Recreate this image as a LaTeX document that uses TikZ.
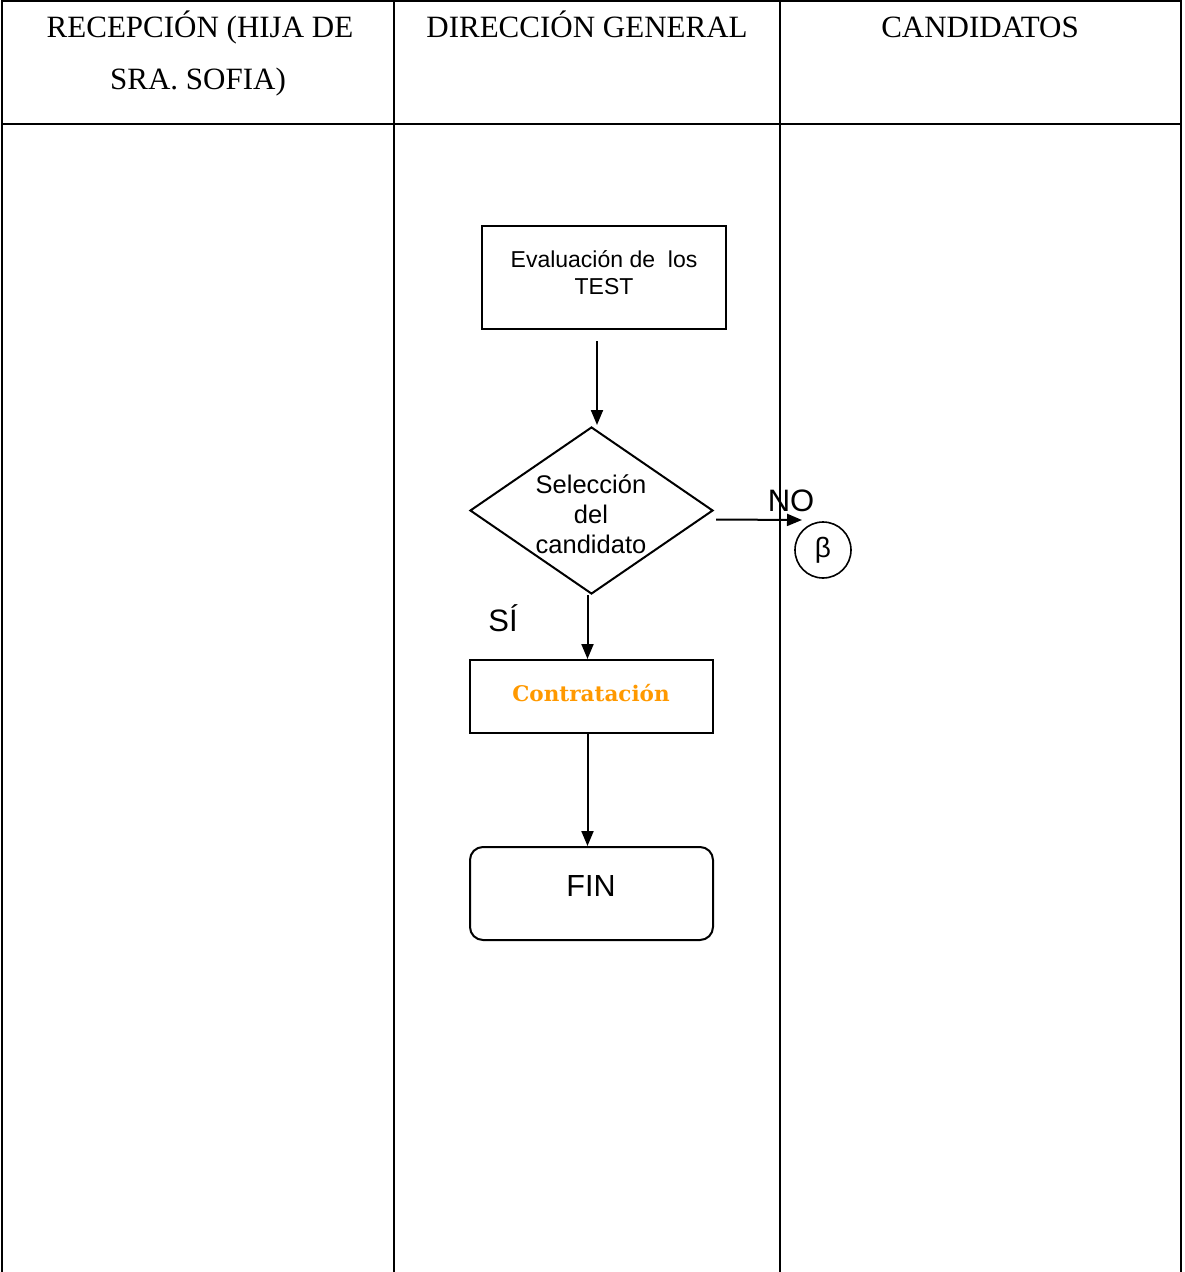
\documentclass[tikz,border=0pt]{standalone}
\usepackage{fontspec}
\setmainfont{Liberation Serif}
\newfontfamily\arialf{Liberation Sans}
\newfontfamily\bookf{DejaVu Serif}
\usetikzlibrary{shapes.geometric,arrows.meta,calc}
\definecolor{orangeT}{HTML}{FF9900}
\begin{document}
\begin{tikzpicture}[x=1pt,y=-1pt,
  tbl/.style={line width=2.2pt},
  shp/.style={draw,line width=2pt,inner sep=0pt},
  arr/.style={line width=2pt,-{Triangle[length=15pt,width=12pt]}},
  hdr/.style={font=\fontsize{31}{36}\selectfont,anchor=base},
  sans/.style={font=\arialf\fontsize{23}{27}\selectfont,align=center}]
\useasboundingbox (0,0) rectangle (1184,1272);
% table
\draw[tbl] (2,1272) -- (2,1) -- (1181,1) -- (1181,1272);
\draw[tbl] (2,124) -- (1181,124);
\draw[tbl] (394,1) -- (394,1272);
\draw[tbl] (780,1) -- (780,1272);
\node[hdr] (h1a) at (200,37) {RECEPCIÓN (HIJA DE};
\node[hdr] (h1b) at (198,89) {SRA. SOFIA)};
\node[hdr] (h2) at (587,37) {DIRECCIÓN GENERAL};
\node[hdr] (h3) at (980,37) {CANDIDATOS};
% shapes
\node[shp,minimum width=244pt,minimum height=103pt] (eval) at (604,277.5) {};
\node[sans] (evalt) at (604,273) {Evaluación de \ los\\TEST};
\node[shp,diamond,minimum width=243pt,minimum height=167pt] (dia) at (591.5,510.5) {};
\begin{scope}
\clip (470,440) rectangle (713,554);
\node[sans,font=\arialf\fontsize{25.5}{30}\selectfont] (diat) at (591,514) {Selección\\del\\candidato};
\end{scope}
\node[shp,rectangle,minimum width=243pt,minimum height=73pt] (con) at (591.5,696.5) {};
\node[font=\bookf\bfseries\fontsize{21.5}{24}\selectfont,text=orangeT] (cont) at (591,693) {Contratación};
\node[shp,rounded corners=13pt,minimum width=243pt,minimum height=93pt] (fin) at (591.5,893.5) {};
\node[font=\arialf\fontsize{30.5}{34}\selectfont] (fint) at (591,886) {FIN};
\node[draw,circle,line width=1.6pt,minimum size=56pt,inner sep=0pt] (beta) at (823,550) {};
\node[font=\arialf\fontsize{28}{30}\selectfont] (betat) at (823,550) {β};
% connectors
\coordinate (a1) at ($(eval.south)+(-7,11)$);
\coordinate (a1e) at (597,425);
\draw[arr] (a1) -- (a1e);
\coordinate (a2) at ($(dia.east)+(2,9)$);
\coordinate (a2e) at (802,520);
\draw[arr] (a2) -- (a2e);
\coordinate (a3) at ($(dia.south)+(-4,0)$);
\draw[arr] (a3) -- (a3 |- con.north);
\draw[arr] (a3 |- con.south) -- (a3 |- fin.north);
% labels
\node[font=\arialf\fontsize{31}{34}\selectfont] (no) at (791,501) {NO};
\node[font=\arialf\fontsize{31}{34}\selectfont] (si) at (503,618) {SÍ};
\end{tikzpicture}
\end{document}
